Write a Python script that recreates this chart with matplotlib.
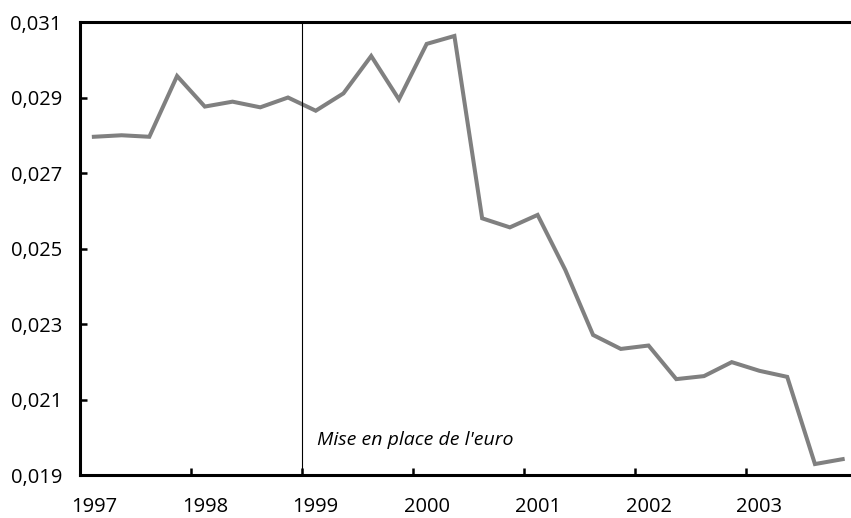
import matplotlib
matplotlib.use('Agg')
import matplotlib.pyplot as plt

# quarterly values, 1997Q1 .. 2003Q4
years = ['1997', '1998', '1999', '2000', '2001', '2002', '2003']
values = [0.02796, 0.02800, 0.02796, 0.02957,
          0.02876, 0.02889, 0.02874, 0.02900,
          0.02865, 0.02911, 0.03010, 0.02895,
          0.03042, 0.03063, 0.02580, 0.02556,
          0.02589, 0.02443, 0.02271, 0.02234,
          0.02243, 0.02154, 0.02162, 0.02199,
          0.02176, 0.02160, 0.01929, 0.01942]
yticks = [0.019, 0.021, 0.023, 0.025, 0.027, 0.029, 0.031]
euro_label = "Mise en place de l'euro"

plt.rcParams['font.family'] = ['Open Sans', 'DejaVu Sans']

fig = plt.figure(figsize=(8.51, 5.18), dpi=100)
ax = fig.add_axes([0.094, 0.083, 0.906, 0.8745])

x = list(range(len(values)))
ax.plot(x, values, color='#808080', lw=2.9, solid_joinstyle='miter')

# euro line at the 1999 boundary
ax.axvline(7.5, color='black', lw=0.8)
ax.text(8.05, 0.01993, euro_label, style='italic', fontsize=14,
        ha='left', va='center')

ax.set_xlim(-0.5, 27.3)
ax.set_ylim(0.019, 0.031)

# labels on Q1 points, tick marks between years
ax.set_xticks([4 * i for i in range(len(years))])
ax.set_xticklabels(years)
ax.set_xticks([4 * i - 0.5 for i in range(1, len(years))], minor=True)
ax.tick_params(axis='x', which='major', length=0, pad=16, labelsize=14.5)
ax.tick_params(axis='x', which='minor', direction='in', length=5, width=1.8)

ax.set_yticks(yticks)
ax.set_yticklabels([('%.3f' % v).replace('.', ',') for v in yticks])
ax.tick_params(axis='y', direction='in', length=5, width=1.8, pad=13,
               labelsize=14.5)

ax.spines['right'].set_visible(False)
for s in ['left', 'bottom', 'top']:
    ax.spines[s].set_linewidth(2.2)

fig.savefig('out.png', dpi=100)
